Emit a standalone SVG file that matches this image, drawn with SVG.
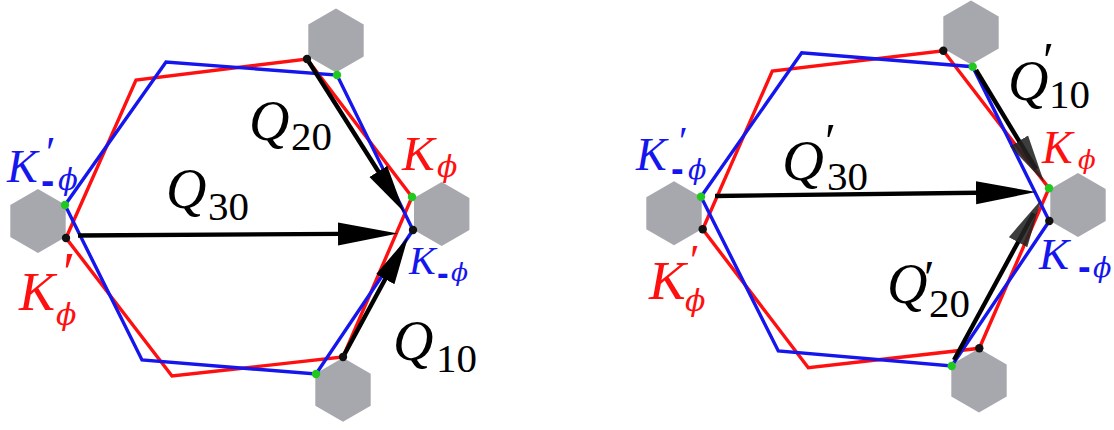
<svg xmlns="http://www.w3.org/2000/svg" width="1114" height="430" viewBox="0 0 1114 430">
<style>
.gray{fill:#a7a7ae}
.red{fill:none;stroke:#ff1010;stroke-width:3.4;stroke-linejoin:miter}
.blue{fill:none;stroke:#1515ee;stroke-width:3.4;stroke-linejoin:miter}
.arr{stroke:#000;stroke-width:4.4;fill:none}
.gd{fill:#1fc91f}
.bd{fill:#111}
.r{fill:#ff1010}
.b{fill:#1515ee}
.k{fill:#000}
</style>
<defs>
<polygon id="hex" points="0,-32 27.7,-16 27.7,16 0,32 -27.7,16 -27.7,-16"/>
<marker id="ahL" markerUnits="userSpaceOnUse" viewBox="0 -12 60 24" markerWidth="60" markerHeight="24" refX="45" refY="0" orient="auto">
<path d="M0,-11.5 L60,0 L0,11.5 z" fill="#000"/>
</marker>
<marker id="ahM" markerUnits="userSpaceOnUse" viewBox="0 -11 48 22" markerWidth="48" markerHeight="22" refX="33" refY="0" orient="auto">
<path d="M0,-10.5 L48,0 L0,10.5 z" fill="#000"/>
</marker>
<marker id="ahG" markerUnits="userSpaceOnUse" viewBox="0 -11 48 22" markerWidth="48" markerHeight="22" refX="33" refY="0" orient="auto">
<path d="M0,-10.5 L48,0 L0,10.5 z" fill="#222" fill-opacity="0.88"/>
</marker>
</defs>

<g id="sites-left">
<use href="#hex" class="gray" x="38" y="221"/>
<use href="#hex" class="gray" x="336" y="40.5"/>
<use href="#hex" class="gray" x="441.7" y="214"/>
<use href="#hex" class="gray" x="343" y="389.7"/>
</g>
<g id="sites-right">
<use href="#hex" class="gray" x="674" y="213.3"/>
<use href="#hex" class="gray" x="971" y="32.5"/>
<use href="#hex" class="gray" x="1078" y="205"/>
<use href="#hex" class="gray" x="979" y="380.5"/>
</g>

<g id="bz-left">
<polygon class="red" points="66,238 136,80 307,59 412,197 343,357 172,376"/>
<polygon class="blue" points="65,205 166,62 337,75 413,230 316,374 142,360"/>
</g>
<g id="bz-right">
<polygon class="red" points="702.7,229.3 772.3,71 943.3,50.7 1049,188.3 979.3,348.3 808.3,367.7"/>
<polygon class="blue" points="701,196.7 801.7,52.7 972.7,66.7 1049.3,221 951.7,366 778.3,351"/>
</g>

<g id="connectors">
<line class="arr" x1="78" y1="235.5" x2="383" y2="233.6" marker-end="url(#ahL)"/>
<line class="arr" x1="307" y1="59" x2="396" y2="199.3" marker-end="url(#ahM)"/>
<line class="arr" x1="343" y1="357" x2="400.9" y2="250.2" marker-end="url(#ahM)"/>
<line class="arr" x1="715" y1="196" x2="1021" y2="192.2" marker-end="url(#ahL)"/>
<line class="arr" x1="976" y1="70" x2="1036.2" y2="169.2" marker-end="url(#ahG)"/>
<line class="arr" x1="954" y1="360" x2="1033.8" y2="213.2" marker-end="url(#ahG)"/>
</g>

<g id="dots-left">
<circle class="gd" cx="65" cy="205" r="4.2"/>
<circle class="gd" cx="337" cy="75" r="4.2"/>
<circle class="gd" cx="412" cy="197" r="4.2"/>
<circle class="gd" cx="316" cy="374" r="4.2"/>
<circle class="bd" cx="66" cy="238" r="4.2"/>
<circle class="bd" cx="307" cy="59" r="4.2"/>
<circle class="bd" cx="413" cy="230" r="4.2"/>
<circle class="bd" cx="343" cy="357" r="4.2"/>
</g>
<g id="dots-right">
<circle class="gd" cx="701" cy="196.7" r="4.2"/>
<circle class="gd" cx="972.7" cy="66.7" r="4.2"/>
<circle class="gd" cx="1049" cy="188.3" r="4.2"/>
<circle class="gd" cx="951.7" cy="366" r="4.2"/>
<circle class="bd" cx="702.7" cy="229.3" r="4.2"/>
<circle class="bd" cx="943.3" cy="50.7" r="4.2"/>
<circle class="bd" cx="1049.3" cy="221" r="4.2"/>
<circle class="bd" cx="979.3" cy="348.3" r="4.2"/>
</g>

<g id="label-left-Kmphi-prime" class="b">
<text font-family="Liberation Serif, serif" font-style="italic"><tspan x="7" y="182" font-size="46">K</tspan><tspan x="46" y="167" font-size="44" font-style="normal">′</tspan><tspan font-family="Liberation Sans, sans-serif" font-weight="bold" font-style="normal" x="41" y="194" font-size="40">-</tspan><tspan font-family="DejaVu Serif, serif" x="58" y="190" font-size="29">ϕ</tspan></text>
</g>
<g id="label-left-Kphi" class="r">
<text font-family="Liberation Serif, serif" font-style="italic"><tspan x="402" y="170" font-size="49">K</tspan><tspan font-family="DejaVu Serif, serif" x="437" y="177" font-size="30">ϕ</tspan></text>
</g>
<g id="label-left-Kmphi" class="b">
<text font-family="Liberation Serif, serif" font-style="italic"><tspan x="409" y="274" font-size="40">K</tspan><tspan font-family="Liberation Sans, sans-serif" font-weight="bold" font-style="normal" x="437" y="285" font-size="35">-</tspan><tspan font-family="DejaVu Serif, serif" x="451" y="281" font-size="25">ϕ</tspan></text>
</g>
<g id="label-left-Kphi-prime" class="r">
<text font-family="Liberation Serif, serif" font-style="italic"><tspan x="19" y="310" font-size="54">K</tspan><tspan x="63" y="292" font-size="56" font-style="normal">′</tspan><tspan font-family="DejaVu Serif, serif" x="56" y="325" font-size="30">ϕ</tspan></text>
</g>
<g id="label-Q20" class="k">
<text font-family="Liberation Serif, serif" font-style="italic"><tspan x="249" y="140" font-size="56">Q</tspan><tspan font-style="normal" x="291" y="150" font-size="41">20</tspan></text>
</g>
<g id="label-Q30" class="k">
<text font-family="Liberation Serif, serif" font-style="italic"><tspan x="166" y="208" font-size="56">Q</tspan><tspan font-style="normal" x="208" y="220" font-size="41">30</tspan></text>
</g>
<g id="label-Q10" class="k">
<text font-family="Liberation Serif, serif" font-style="italic"><tspan x="393" y="360" font-size="56">Q</tspan><tspan font-style="normal" x="436" y="372" font-size="41">10</tspan></text>
</g>

<g id="label-right-Kmphi-prime" class="b">
<text font-family="Liberation Serif, serif" font-style="italic"><tspan x="636" y="170" font-size="46">K</tspan><tspan x="679" y="154" font-size="40" font-style="normal">′</tspan><tspan font-family="Liberation Sans, sans-serif" font-weight="bold" font-style="normal" x="671" y="182" font-size="38">-</tspan><tspan font-family="DejaVu Serif, serif" x="688" y="179" font-size="27">ϕ</tspan></text>
</g>
<g id="label-right-Kphi" class="r">
<text font-family="Liberation Serif, serif" font-style="italic"><tspan x="1042" y="163" font-size="46">K</tspan><tspan font-family="DejaVu Serif, serif" x="1078" y="169" font-size="26">ϕ</tspan></text>
</g>
<g id="label-right-Kmphi" class="b">
<text font-family="Liberation Serif, serif" font-style="italic"><tspan x="1039" y="269" font-size="45">K</tspan><tspan font-family="Liberation Sans, sans-serif" font-weight="bold" font-style="normal" x="1078" y="280" font-size="38">-</tspan><tspan font-family="DejaVu Serif, serif" x="1093" y="277" font-size="27">ϕ</tspan></text>
</g>
<g id="label-right-Kphi-prime" class="r">
<text font-family="Liberation Serif, serif" font-style="italic"><tspan x="649" y="299" font-size="55">K</tspan><tspan x="690" y="275" font-size="44" font-style="normal">′</tspan><tspan font-family="DejaVu Serif, serif" x="685" y="311" font-size="30">ϕ</tspan></text>
</g>
<g id="label-Q30p" class="k">
<text font-family="Liberation Serif, serif" font-style="italic"><tspan x="782" y="180" font-size="58">Q</tspan><tspan x="825" y="158" font-size="50" font-style="normal">′</tspan><tspan font-style="normal" x="827" y="190" font-size="41">30</tspan></text>
</g>
<g id="label-Q10p" class="k">
<text font-family="Liberation Serif, serif" font-style="italic"><tspan x="1008" y="100" font-size="56">Q</tspan><tspan x="1043" y="77" font-size="50" font-style="normal">′</tspan><tspan font-style="normal" x="1049" y="108" font-size="41">10</tspan></text>
</g>
<g id="label-Q20p" class="k">
<text font-family="Liberation Serif, serif" font-style="italic"><tspan x="887" y="303" font-size="56">Q</tspan><tspan x="924" y="294" font-size="48" font-style="normal">′</tspan><tspan font-style="normal" x="929" y="317" font-size="41">20</tspan></text>
</g>
</svg>
